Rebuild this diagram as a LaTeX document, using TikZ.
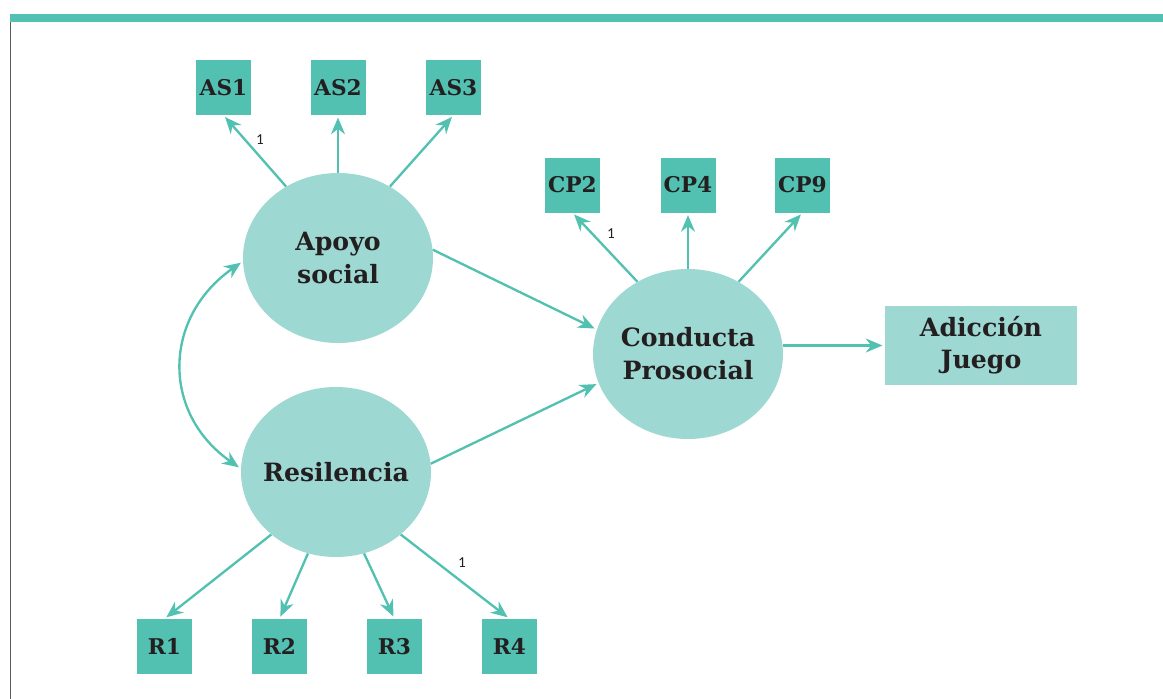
\documentclass[tikz,border=0pt]{standalone}
\usepackage{fontspec}
\setmainfont{DejaVu Serif}
\newfontfamily\weightfont{Carlito}
\usetikzlibrary{arrows.meta,shapes.geometric}
\definecolor{tealdark}{RGB}{82,193,178}
\definecolor{teallight}{RGB}{158,216,210}
\definecolor{inkdark}{RGB}{35,31,32}
\definecolor{framegray}{RGB}{90,90,90}

\begin{document}
\begin{tikzpicture}[x=0.03cm, y=-0.03cm,
    item/.style={fill=tealdark, minimum width=1.65cm, minimum height=1.65cm, inner sep=0pt,
      text=inkdark, font=\fontsize{18.5}{20}\selectfont\bfseries},
    latent/.style={ellipse, fill=teallight, minimum width=5.7cm, minimum height=5.1cm,
      inner xsep=-0.4cm, inner ysep=0pt,
      align=center, text=inkdark, font=\fontsize{21.5}{28}\selectfont\bfseries},
    outcome/.style={fill=teallight, minimum width=5.76cm, minimum height=2.37cm, inner sep=0pt,
      align=center, text=inkdark, font=\fontsize{21.5}{27}\selectfont\bfseries},
    weight/.style={text=inkdark, inner sep=0pt, font=\weightfont\fontsize{13}{14}\selectfont},
    link/.style={-{Stealth[length=5mm,width=4.2mm]}, draw=tealdark, line width=2pt, shorten >=2pt}]
    \useasboundingbox (0,0) rectangle (1163,699);
    % frame
    \fill[tealdark] (10,14) rectangle (1163,22);
    \draw[framegray, line width=0.8pt] (10,22) -- (10,699);
    % latent variables
    \node[latent] (apoyo) at (338,258) {Apoyo\\social};
    \node[latent] (resil) at (336,472) {Resilencia};
    \node[latent] (conducta) at (688,354) {Conducta\\Prosocial};
    \node[outcome] (adiccion) at (981,345.5) {Adicción\\Juego};
    % indicators
    \node[item] (as1) at (223.5,87.5) {AS1};
    \node[item] (as2) at (338,87.5) {AS2};
    \node[item] (as3) at (453.5,87.5) {AS3};
    \node[item] (cp2) at (572.5,185) {CP2};
    \node[item] (cp4) at (688,185) {CP4};
    \node[item] (cp9) at (802.5,185) {CP9};
    \node[item] (r1) at (164.5,646.5) {R1};
    \node[item] (r2) at (279.5,646.5) {R2};
    \node[item] (r3) at (394.5,646.5) {R3};
    \node[item] (r4) at (509.5,646.5) {R4};
    % fixed loadings
    \node[weight] (w1) at (260,140) {1};
    \node[weight] (w2) at (611,234) {1};
    \node[weight] (w3) at (462,563) {1};
    % paths
    \draw[link] (apoyo.126) -- (as1.south);
    \draw[link] (apoyo.north) -- (as2.south);
    \draw[link] (apoyo.54) -- (as3.south);
    \draw[link] (conducta.125) -- (cp2.south);
    \draw[link] (conducta.north) -- (cp4.south);
    \draw[link] (conducta.55) -- (cp9.south);
    \draw[link] (resil.224) -- (r1.north);
    \draw[link] (resil.251) -- (r2.north);
    \draw[link] (resil.289) -- (r3.north);
    \draw[link] (resil.316) -- (r4.north);
    \draw[link] (apoyo.5) -- (conducta.165);
    \draw[link] (resil.5) -- (conducta.198);
    \draw[link] (conducta.east |- adiccion.west) -- (adiccion.west);
    \draw[link, {Stealth[length=5mm,width=4.2mm]}-{Stealth[length=5mm,width=4.2mm]}, shorten <=2pt]
      (apoyo.182) to[out=215, in=145, looseness=1.2] (resil.178);
\end{tikzpicture}
\end{document}
